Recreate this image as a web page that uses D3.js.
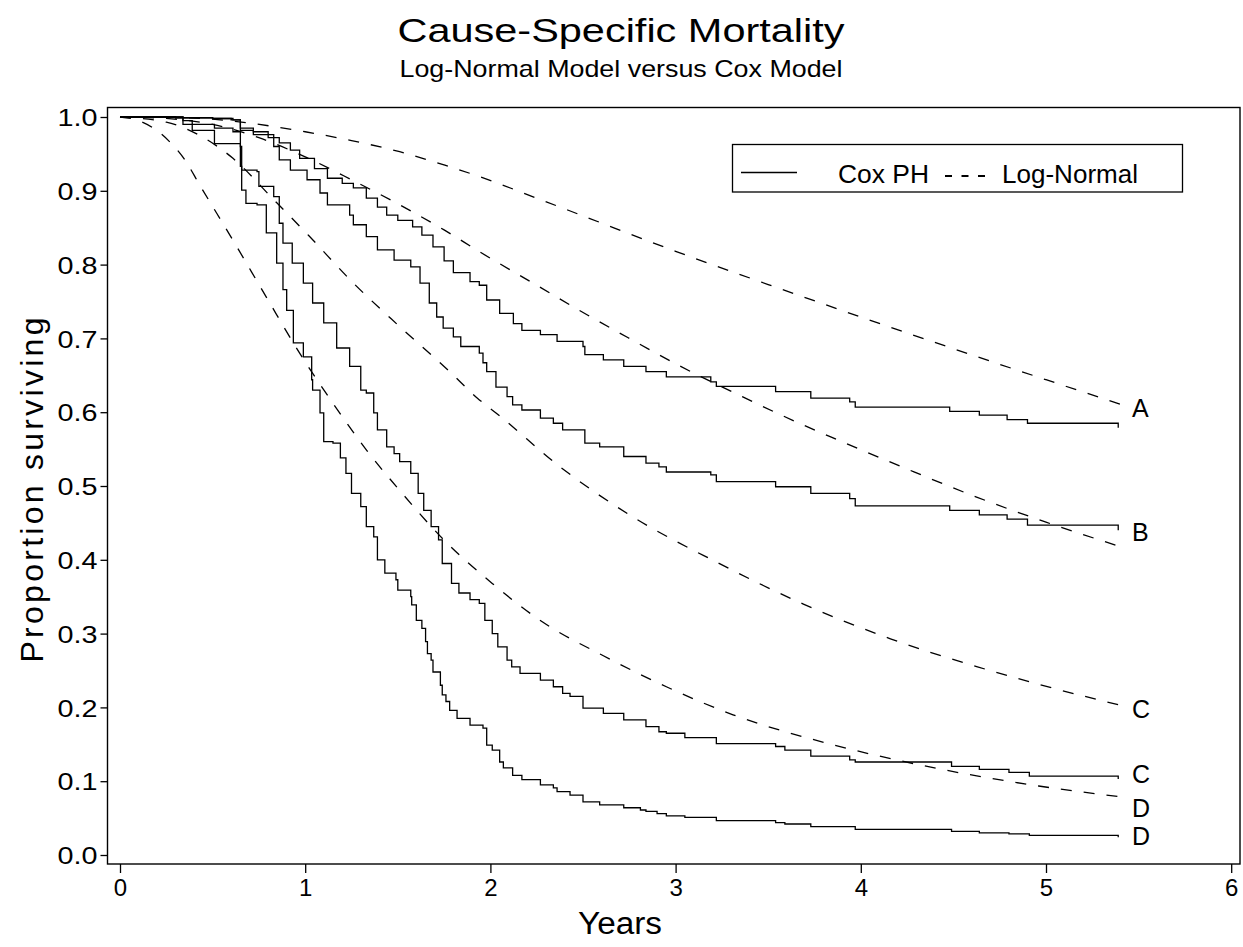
<!DOCTYPE html>
<html><head><meta charset="utf-8">
<script src="https://cdn.jsdelivr.net/npm/d3@7"></script>
<style>
html,body{margin:0;padding:0;background:#fff;}
text{font-family:"Liberation Sans",Arial,Helvetica,sans-serif;fill:#000;}
</style></head>
<body>
<svg id="chart" width="1243" height="947"></svg>
<script>
// ---------------- data ----------------
const xTicks = [0,1,2,3,4,5,6];
const yTicks = [0,0.1,0.2,0.3,0.4,0.5,0.6,0.7,0.8,0.9,1.0];
const seriesNames = ["Cox PH","Log-Normal"];
const curveLabels = ["A","B","C","C","D","D"];
const curveLabelValues = [0.606,0.439,0.199,0.110,0.064,0.026];

// Cox PH (step functions): [years, proportion surviving]
const coxA = [[0,1],[0.3,0.999],[0.5,0.998],[0.6,0.996],[0.65,0.985],[0.72,0.98],[0.8,0.972],[0.86,0.965],[0.92,0.955],[0.97,0.944],[1.05,0.93],[1.12,0.917],[1.2,0.91],[1.26,0.904],[1.33,0.89],[1.39,0.878],[1.44,0.867],[1.5,0.86],[1.58,0.851],[1.63,0.84],[1.69,0.824],[1.75,0.805],[1.80,0.789],[1.89,0.777],[1.94,0.772],[1.98,0.752],[2.05,0.734],[2.124,0.72],[2.17,0.711],[2.27,0.705],[2.36,0.696],[2.50,0.689],[2.51,0.678],[2.61,0.671],[2.72,0.662],[2.84,0.655],[2.95,0.648],[3.19,0.641],[3.22,0.635],[3.54,0.628],[3.73,0.619],[3.94,0.614],[3.97,0.607],[4.48,0.601],[4.64,0.596],[4.79,0.590],[4.90,0.585],[5.39,0.579]];
const coxB = [[0,1],[0.3,0.999],[0.5,0.998],[0.61,0.996],[0.65,0.982],[0.72,0.976],[0.83,0.96],[0.86,0.942],[0.92,0.928],[1.01,0.915],[1.08,0.897],[1.12,0.881],[1.24,0.867],[1.26,0.854],[1.33,0.838],[1.39,0.82],[1.48,0.806],[1.57,0.797],[1.62,0.775],[1.67,0.748],[1.71,0.729],[1.745,0.714],[1.80,0.702],[1.84,0.689],[1.94,0.680],[1.96,0.667],[1.98,0.655],[2.03,0.634],[2.09,0.621],[2.12,0.61],[2.17,0.603],[2.27,0.592],[2.34,0.585],[2.39,0.576],[2.51,0.558],[2.59,0.553],[2.72,0.54],[2.84,0.531],[2.91,0.526],[2.95,0.519],[3.19,0.515],[3.22,0.506],[3.54,0.499],[3.73,0.49],[3.94,0.483],[3.97,0.473],[4.48,0.467],[4.64,0.461],[4.79,0.455],[4.90,0.447],[5.39,0.44]];
const coxC = [[0,1],[0.34,0.995],[0.39,0.99],[0.51,0.985],[0.61,0.98],[0.65,0.96],[0.657,0.928],[0.74,0.926],[0.75,0.906],[0.83,0.892],[0.86,0.856],[0.88,0.829],[0.93,0.802],[0.99,0.775],[1.04,0.748],[1.10,0.721],[1.17,0.687],[1.24,0.662],[1.30,0.63],[1.33,0.626],[1.37,0.599],[1.39,0.576],[1.44,0.553],[1.48,0.544],[1.51,0.533],[1.57,0.517],[1.61,0.49],[1.64,0.467],[1.68,0.445],[1.72,0.427],[1.74,0.395],[1.79,0.368],[1.83,0.355],[1.89,0.346],[1.94,0.341],[1.97,0.318],[2.01,0.30],[2.04,0.282],[2.09,0.264],[2.115,0.255],[2.16,0.246],[2.27,0.237],[2.34,0.228],[2.39,0.219],[2.43,0.215],[2.50,0.199],[2.61,0.192],[2.72,0.183],[2.84,0.174],[2.91,0.167],[2.95,0.165],[3.05,0.159],[3.22,0.151],[3.54,0.147],[3.59,0.142],[3.73,0.134],[3.94,0.129],[3.97,0.126],[4.49,0.12],[4.64,0.116],[4.80,0.112],[4.91,0.107],[5.39,0.103]];
const coxD = [[0,1],[0.34,0.99],[0.39,0.982],[0.51,0.964],[0.65,0.933],[0.657,0.901],[0.68,0.883],[0.74,0.881],[0.79,0.843],[0.846,0.802],[0.88,0.766],[0.90,0.738],[0.936,0.694],[0.99,0.675],[1.035,0.644],[1.04,0.63],[1.08,0.599],[1.10,0.56],[1.15,0.558],[1.19,0.538],[1.22,0.517],[1.25,0.49],[1.30,0.472],[1.33,0.445],[1.37,0.431],[1.39,0.40],[1.43,0.382],[1.49,0.373],[1.50,0.359],[1.57,0.35],[1.575,0.339],[1.60,0.318],[1.63,0.307],[1.65,0.289],[1.66,0.273],[1.68,0.264],[1.69,0.248],[1.73,0.23],[1.74,0.217],[1.76,0.208],[1.78,0.196],[1.82,0.185],[1.89,0.176],[1.96,0.172],[1.98,0.149],[2.01,0.142],[2.05,0.126],[2.07,0.118],[2.12,0.108],[2.17,0.102],[2.27,0.095],[2.34,0.091],[2.36,0.086],[2.43,0.081],[2.50,0.072],[2.59,0.068],[2.72,0.064],[2.81,0.061],[2.84,0.059],[2.90,0.056],[2.95,0.053],[3.05,0.051],[3.22,0.0465],[3.54,0.0438],[3.59,0.042],[3.73,0.0384],[3.97,0.0348],[4.49,0.032],[4.64,0.030],[4.80,0.0285],[4.91,0.0267],[5.39,0.024]];

// Log-Normal model (smooth): [years, proportion surviving]
const lnA = [[0,1],[0.25,0.9995],[0.5,0.997],[0.72,0.991],[1.0,0.98],[1.25,0.968],[1.51,0.953],[1.75,0.935],[1.944,0.919],[2.25,0.89],[2.5,0.866],[3.0,0.818],[3.5,0.773],[4.0,0.729],[4.5,0.686],[5.0,0.644],[5.4,0.611]];
const lnB = [[0,1],[0.25,0.998],[0.5,0.99],[0.75,0.972],[1.0,0.946],[1.25,0.915],[1.51,0.881],[1.75,0.847],[1.944,0.817],[2.25,0.772],[2.48,0.738],[2.75,0.70],[3.02,0.663],[3.36,0.621],[3.65,0.587],[3.89,0.561],[4.25,0.523],[4.625,0.485],[5.0,0.451],[5.4,0.418]];
const lnC = [[0,1],[0.25,0.993],[0.43,0.975],[0.61,0.944],[0.83,0.888],[1.02,0.839],[1.26,0.775],[1.51,0.716],[1.78,0.655],[1.93,0.619],[2.05,0.595],[2.376,0.526],[2.77,0.458],[3.22,0.397],[3.69,0.34],[4.16,0.293],[4.63,0.255],[4.95,0.232],[5.4,0.203]];
const lnD = [[0,1],[0.09,0.996],[0.18,0.985],[0.27,0.966],[0.35,0.942],[0.43,0.908],[0.61,0.833],[0.79,0.756],[0.97,0.68],[1.15,0.612],[1.33,0.549],[1.51,0.494],[1.745,0.428],[2.01,0.368],[2.28,0.316],[2.61,0.27],[2.95,0.228],[3.31,0.19],[3.81,0.152],[4.32,0.122],[4.96,0.0935],[5.4,0.079]];

const coxSeries = [coxA,coxB,coxC,coxD];
const lnSeries = [lnA,lnB,lnC,lnD];

// ---------------- drawing ----------------
const svg = d3.select("#chart");
const x = d3.scaleLinear().domain([0,6]).range([120,1231.2]);
const y = d3.scaleLinear().domain([0,1]).range([855,117]);
const frame = {left:107.5, top:107.5, right:1240, bottom:864};

// frame
svg.append("rect").attr("x",frame.left).attr("y",frame.top)
  .attr("width",frame.right-frame.left).attr("height",frame.bottom-frame.top)
  .attr("fill","none").attr("stroke","#000").attr("stroke-width",1.4);

// x axis
const xAxis = d3.axisBottom(x).tickValues(xTicks).tickSize(9).tickPadding(6).tickFormat(d3.format("d"));
const gx = svg.append("g").attr("transform",`translate(0,${frame.bottom})`).call(xAxis);
gx.select(".domain").remove();
gx.selectAll(".tick line").attr("stroke","#000").attr("stroke-width",1.3);
gx.selectAll(".tick text").attr("font-size",24).attr("font-family",'"Liberation Sans",Arial,sans-serif').attr("fill","#000");

// y axis
const yAxis = d3.axisLeft(y).tickValues(yTicks).tickSize(7).tickPadding(3).tickFormat(d3.format(".1f"));
const gy = svg.append("g").attr("transform",`translate(${frame.left},0)`).call(yAxis);
gy.select(".domain").remove();
gy.selectAll(".tick line").attr("stroke","#000").attr("stroke-width",1.3);
gy.selectAll(".tick text").attr("font-size",24).attr("font-family",'"Liberation Sans",Arial,sans-serif').attr("fill","#000")
  .attr("x",-10).attr("dy","0.36em").attr("textLength",40).attr("lengthAdjust","spacingAndGlyphs");

// curves
const stepLine = d3.line().x(d=>x(d[0])).y(d=>y(d[1])).curve(d3.curveStepAfter);
const smoothLine = d3.line().x(d=>x(d[0])).y(d=>y(d[1])).curve(d3.curveMonotoneX);

svg.append("g").selectAll("path.ln").data(lnSeries).join("path").attr("class","ln")
  .attr("d",smoothLine).attr("fill","none").attr("stroke","#000").attr("stroke-width",1.3)
  .attr("stroke-dasharray","11,12");
svg.append("g").selectAll("path.cox").data(coxSeries).join("path").attr("class","cox")
  .attr("d",stepLine).attr("fill","none").attr("stroke","#000").attr("stroke-width",1.3);

// curve end labels
svg.append("g").selectAll("text").data(curveLabels).join("text")
  .attr("x",1132).attr("y",(d,i)=>y(curveLabelValues[i])+9.5)
  .attr("font-size",25).text(d=>d);

// titles
svg.append("text").attr("x",621).attr("y",42).attr("text-anchor","middle")
  .attr("font-size",33).attr("textLength",447).attr("lengthAdjust","spacingAndGlyphs")
  .text("Cause-Specific Mortality");
svg.append("text").attr("x",621).attr("y",77).attr("text-anchor","middle")
  .attr("font-size",24).attr("textLength",443).attr("lengthAdjust","spacingAndGlyphs")
  .text("Log-Normal Model versus Cox Model");
svg.append("text").attr("x",620).attr("y",934).attr("text-anchor","middle")
  .attr("font-size",31).attr("textLength",84).attr("lengthAdjust","spacingAndGlyphs")
  .text("Years");
svg.append("text").attr("transform","translate(43,490) rotate(-90)").attr("text-anchor","middle")
  .attr("font-size",32).attr("textLength",345).attr("lengthAdjust","spacing")
  .text("Proportion surviving");

// legend
const lg = svg.append("g");
lg.append("rect").attr("x",732.5).attr("y",144.5).attr("width",450).attr("height",47.5)
  .attr("fill","#fff").attr("stroke","#000").attr("stroke-width",1.3);
lg.append("line").attr("x1",741).attr("x2",797).attr("y1",172.5).attr("y2",172.5)
  .attr("stroke","#000").attr("stroke-width",1.3);
lg.append("text").attr("x",838).attr("y",183).attr("font-size",25)
  .attr("textLength",91).attr("lengthAdjust","spacingAndGlyphs").text(seriesNames[0]);
lg.append("line").attr("x1",945).attr("x2",985).attr("y1",176).attr("y2",176)
  .attr("stroke","#000").attr("stroke-width",2).attr("stroke-dasharray","7,9.5");
lg.append("text").attr("x",1002).attr("y",183).attr("font-size",25)
  .attr("textLength",136).attr("lengthAdjust","spacingAndGlyphs").text(seriesNames[1]);
</script>
</body></html>
